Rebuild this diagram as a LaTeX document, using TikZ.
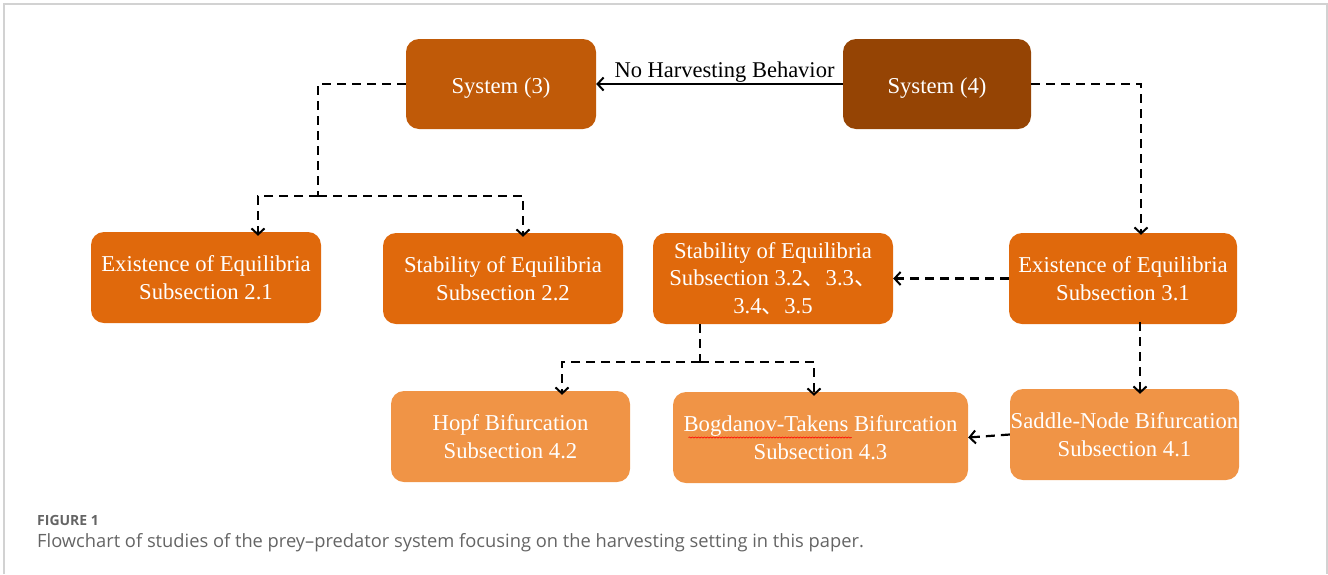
\documentclass[tikz,border=0pt]{standalone}
\usepackage{fontspec}
\setmainfont{Liberation Serif}
\newfontfamily\capfont{Open Sans}
\newfontfamily\cjk{Noto Sans CJK SC}
\usepackage{tikz}
\usetikzlibrary{positioning, calc, arrows.meta, decorations.pathmorphing}

\definecolor{sysdark}{RGB}{192,90,8}
\definecolor{sysdarker}{RGB}{149,68,4}
\definecolor{midorange}{RGB}{224,105,12}
\definecolor{lightorange}{RGB}{240,148,70}
\definecolor{framegray}{RGB}{210,210,210}
\definecolor{capgray}{RGB}{100,100,100}

\newcommand{\dun}{{\cjk 、}}

\begin{document}
\begin{tikzpicture}[x=1pt, y=-1pt, >={Straight Barb[length=6pt, width=13pt, line width=2pt]},
  box/.style={rounded corners=13pt, text=white, align=center, inner sep=0pt,
    font=\fontsize{22.7}{27.5}\selectfont, minimum height=91pt},
  sysbox/.style={box, minimum height=90pt, text height=24pt, text depth=5pt},
  link/.style={line width=2.2pt, dash pattern=on 9pt off 6pt},
  plain/.style={line width=2.2pt}
  ]
	\useasboundingbox (0,0) rectangle (1328,574);
	\draw[framegray, line width=1.5pt] (4,574) -- (4,4) -- (1327,4) -- (1327,574);

	%Systems
	\node[sysbox, fill=sysdark, minimum width=190pt]		(sys3) at (501,84)		{System (3)};
	\node[sysbox, fill=sysdarker, minimum width=188pt]	(sys4) at (937,84)		{System (4)};

	%Second row
	\node[box, fill=midorange, minimum width=230pt]		(ex2) at (206,277.5)	{Existence of Equilibria\\Subsection 2.1};
	\node[box, fill=midorange, minimum width=240pt]		(st2) at (503,278.5)	{Stability of Equilibria\\Subsection 2.2};
	\node[box, fill=midorange, minimum width=240pt]		(st3) at (773,278.5)	{Stability of Equilibria\\Subsection 3.2\dun 3.3\dun\\3.4\dun 3.5};
	\node[box, fill=midorange, minimum width=228pt]		(ex3) at (1123,278.5)	{Existence of Equilibria\\Subsection 3.1};

	%Bifurcations
	\node[box, fill=lightorange, minimum width=239pt]	(hopf) at (510.5,436.5)	{Hopf Bifurcation\\Subsection 4.2};
	\node[box, fill=lightorange, minimum width=295pt]	(bt) at (820.5,437.5)	{Bogdanov-Takens Bifurcation\\Subsection 4.3};
	\node[box, fill=lightorange, minimum width=229pt]	(sn) at (1124.5,434.5)	{Saddle-Node Bifurcation\\Subsection 4.1};

	%spell-check squiggle under Bogdanov-Takens
	\draw[red, line width=0.6pt, decorate, decoration={snake, amplitude=0.6pt, segment length=3pt}]
		([xshift=-132pt, yshift=0pt]bt.center) -- ([xshift=31pt, yshift=0pt]bt.center);

	\coordinate (j3) at (318,196);
	\coordinate (j4) at (700,362);

	%Connectors
	\draw[plain, ->] (sys4.west) -- node[above=-3pt, xshift=5pt, font=\fontsize{22.5}{26}\selectfont] {No Harvesting Behavior} (sys3.east);
	\draw[link] (sys3.west) -| (j3);
	\draw[link, ->] (j3) -| ([xshift=52pt, yshift=-4pt]ex2.north);
	\draw[link, ->] (j3) -| ([xshift=20pt, yshift=-4pt]st2.north);
	\draw[link, ->] (sys4.east) -| ([xshift=18pt, yshift=-2pt]ex3.north);
	\draw[link, ->] (ex3.west) -- (st3.east);
	\draw[link] ([xshift=-73pt]st3.south) -- (j4);
	\draw[link, ->] (j4) -| ([xshift=51.5pt, yshift=-4pt]hopf.north);
	\draw[link, ->] (j4) -| ([xshift=-6.5pt, yshift=-4pt]bt.north);
	\draw[link, ->] ([xshift=17pt, yshift=2pt]ex3.south) -- ([xshift=15.5pt, yshift=-5pt]sn.north);
	\draw[link, ->] (sn.west) -- (bt.east);

	%Caption
	\node[anchor=base west, inner sep=0pt, text=capgray, font=\capfont\bfseries\fontsize{14}{16}\selectfont] (fig) at (37,525) {FIGURE 1};
	\node[anchor=base west, inner sep=0pt, text=capgray, font=\capfont\fontsize{18.3}{21}\selectfont] (cap) at (37,547) {Flowchart of studies of the prey–predator system focusing on the harvesting setting in this paper.};
\end{tikzpicture}
\end{document}
